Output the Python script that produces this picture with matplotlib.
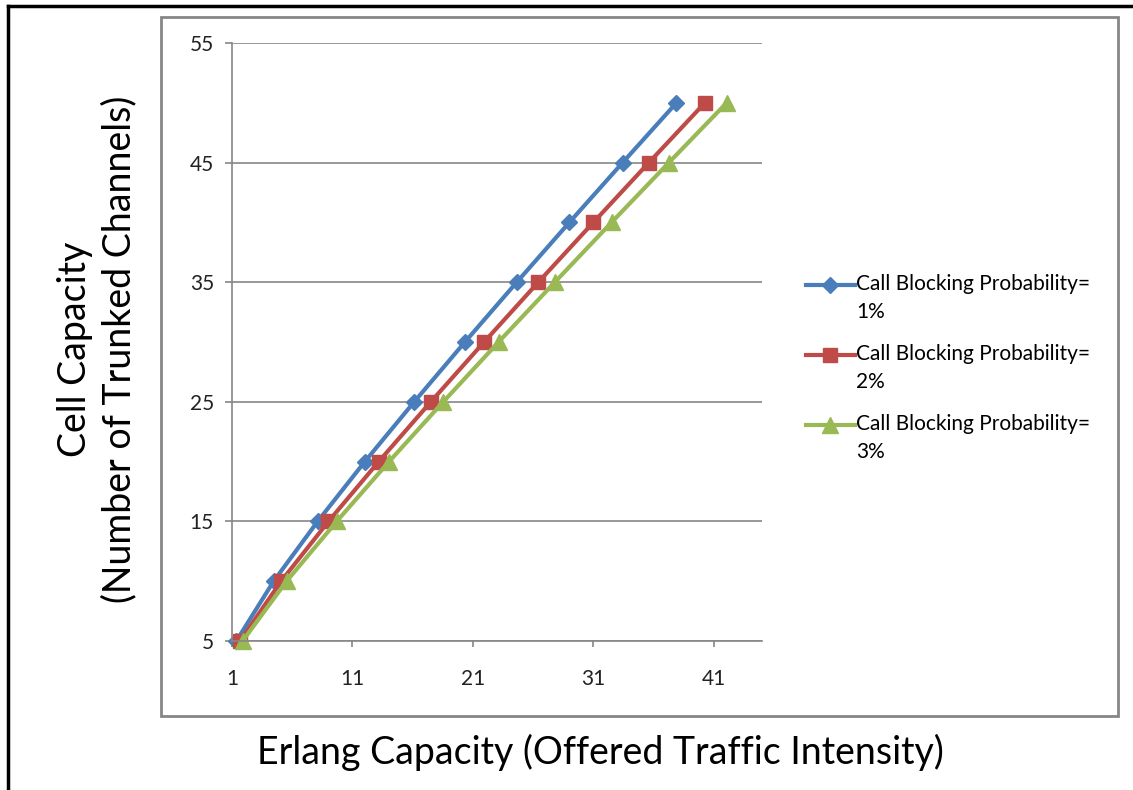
import matplotlib
matplotlib.use("Agg")
import matplotlib.pyplot as plt
from matplotlib.legend_handler import HandlerLine2D
from matplotlib.lines import Line2D
from matplotlib.patches import Rectangle

plt.rcParams["font.family"] = ["Lato", "DejaVu Sans"]

# trunked channels per cell and the offered traffic (Erlangs) at each GoS
channels = [5, 10, 15, 20, 25, 30, 35, 40, 45, 50]
erl_1pct = [1.36, 4.46, 8.11, 12.03, 16.13, 20.34, 24.64, 29.01, 33.43, 37.90]
erl_2pct = [1.66, 5.08, 9.01, 13.18, 17.51, 21.93, 26.43, 31.00, 35.61, 40.26]
erl_3pct = [1.88, 5.53, 9.69, 14.04, 18.54, 23.13, 27.80, 32.51, 37.27, 42.07]
labels = ["Call Blocking Probability=\n1%", "Call Blocking Probability=\n2%",
          "Call Blocking Probability=\n3%"]

BLUE = "#4a7ebb"
RED = "#be4b48"
GREEN = "#98b954"
GRAY = "#868686"


class FirstLineHandler(HandlerLine2D):
    # put the legend sample next to the first text line, like Excel does
    def create_artists(self, legend, orig_handle, xdescent, ydescent, width,
                       height, fontsize, trans):
        return super().create_artists(legend, orig_handle, xdescent,
                                      ydescent - 1.3 * fontsize, width, height,
                                      fontsize, trans)


fig = plt.figure(figsize=(11.33, 7.9), dpi=100)
ax = fig.add_axes([232 / 1133, 1 - 641 / 790, 530 / 1133, 598 / 790])

# outer page border (left + top) and grey chart frame
fig.add_artist(Line2D([8 / 1133, 8 / 1133], [0, 1 - 6 / 790], color="black",
                      lw=2.5, transform=fig.transFigure))
fig.add_artist(Line2D([8 / 1133, 1], [1 - 6 / 790, 1 - 6 / 790], color="black",
                      lw=2.5, transform=fig.transFigure))
fig.add_artist(Rectangle((161 / 1133, 1 - 716 / 790), 957 / 1133, 699 / 790,
                         fill=False, ec=GRAY, lw=2, transform=fig.transFigure))

l1, = ax.plot(erl_1pct, channels, color=BLUE, lw=3, marker="D", ms=8,
              label=labels[0], clip_on=False)
l2, = ax.plot(erl_2pct, channels, color=RED, lw=3, marker="s", ms=10.5,
              label=labels[1], clip_on=False)
l3, = ax.plot(erl_3pct, channels, color=GREEN, lw=3, marker="^", ms=12,
              label=labels[2], clip_on=False)

ax.set_xlim(1, 45)
ax.set_ylim(5, 55)
ax.set_xticks([1, 11, 21, 31, 41])
ax.set_yticks([5, 15, 25, 35, 45, 55])
ax.yaxis.grid(True, color=GRAY, lw=1.2)
ax.set_axisbelow(True)
for s in ("top", "right"):
    ax.spines[s].set_visible(False)
for s in ("left", "bottom"):
    ax.spines[s].set_color(GRAY)
    ax.spines[s].set_linewidth(1.2)
ax.tick_params(axis="y", direction="out", length=5, width=1.2, color=GRAY,
               labelsize=15, labelcolor="#222222", pad=8)
ax.tick_params(axis="x", direction="out", length=4, width=1.2, color=GRAY,
               labelsize=15, labelcolor="#222222", pad=16)

fig.text(600 / 1133, 1 - 752 / 790, "Erlang Capacity (Offered Traffic Intensity)",
         ha="center", va="center", fontsize=27)
fig.text(97 / 1133, 1 - 349 / 790, "Cell Capacity\n(Number of Trunked Channels)",
         ha="center", va="center", rotation=90, fontsize=27, linespacing=1.3)

leg = fig.legend(handles=[l1, l2, l3], loc="upper left",
                 bbox_to_anchor=(806 / 1133, 1 - 274 / 790), frameon=False,
                 fontsize=15, handlelength=2.35, handletextpad=0.05,
                 labelspacing=1.05, borderpad=0, borderaxespad=0,
                 handler_map={Line2D: FirstLineHandler()})
for t in leg.get_texts():
    t.set_linespacing(1.5)

fig.savefig("out.png", dpi=100)
